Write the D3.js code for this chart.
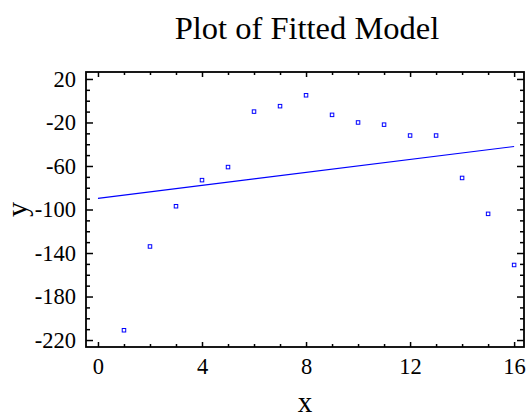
<!DOCTYPE html>
<html>
<head>
<meta charset="utf-8">
<script src="https://cdn.jsdelivr.net/npm/d3@7"></script>
<style>
  html, body { margin: 0; padding: 0; background: #fff; }
  svg { display: block; }
  text { font-family: "Liberation Serif", "Times New Roman", serif; fill: #000; }
</style>
</head>
<body>
<svg id="chart" width="528" height="418"></svg>
<script>
// Observed data
const xValues = [1, 2, 3, 4, 5, 6, 7, 8, 9, 10, 11, 12, 13, 14, 15, 16];
const yValues = [-211, -134, -97, -73, -61, -10, -5, 5, -13, -20, -22, -32, -32, -71, -104, -151];

// Axis limits and tick labels
const xLimits = [-0.46, 16.38];
const yLimits = [-226.4, 26.4];
const xMajorTicks = [0, 4, 8, 12, 16];
const xMinorTicks = [1, 2, 3, 5, 6, 7, 9, 10, 11, 13, 14, 15];
const yMajorTicks = [-220, -180, -140, -100, -60, -20, 20];
const yMinorTicks = [-210, -200, -190, -170, -160, -150, -130, -120, -110, -90, -80, -70, -50, -40, -30, -10, 0, 10];

const title = "Plot of Fitted Model";
const xLabel = "x";
const yLabel = "y";

const svg = d3.select("#chart");
const box = { left: 86, right: 524, top: 72, bottom: 347 };

const x = d3.scaleLinear().domain(xLimits).range([box.left, box.right]);
const y = d3.scaleLinear().domain(yLimits).range([box.bottom, box.top]);

// Least-squares straight-line fit of y on x
const mx = d3.mean(xValues), my = d3.mean(yValues);
const sxy = d3.sum(xValues, (v, i) => (v - mx) * (yValues[i] - my));
const sxx = d3.sum(xValues, v => (v - mx) * (v - mx));
const slope = sxy / sxx;
const intercept = my - slope * mx;
const fitX = [0, 16];

const fmt = d => String(d).replace("\u2212", "-");

// Bottom axis (labelled) and top mirror
function xAxis(gen, ty, major, label) {
  const g = svg.append("g").attr("transform", `translate(0,${ty})`);
  g.call(gen(x).tickValues(major ? xMajorTicks : xMinorTicks)
      .tickSizeInner(major ? -5 : -3).tickSizeOuter(0).tickPadding(11)
      .tickFormat(label ? fmt : ""));
  g.select(".domain").remove();
  g.selectAll(".tick line").attr("stroke", "#000").attr("stroke-width", 1.5);
  g.selectAll(".tick text").attr("font-size", 22.5).attr("font-family", "Liberation Serif, serif");
}
xAxis(d3.axisBottom, box.bottom, true, true);
xAxis(d3.axisBottom, box.bottom, false, false);
xAxis(d3.axisTop, box.top, true, false);
xAxis(d3.axisTop, box.top, false, false);

function yAxis(gen, tx, major, label) {
  const g = svg.append("g").attr("transform", `translate(${tx},0)`);
  g.call(gen(y).tickValues(major ? yMajorTicks : yMinorTicks)
      .tickSizeInner(major ? -7 : -4).tickSizeOuter(0).tickPadding(10)
      .tickFormat(label ? fmt : ""));
  g.select(".domain").remove();
  g.selectAll(".tick line").attr("stroke", "#000").attr("stroke-width", 1.5);
  g.selectAll(".tick text").attr("font-size", 22.5).attr("font-family", "Liberation Serif, serif");
}
yAxis(d3.axisLeft, box.left, true, true);
yAxis(d3.axisLeft, box.left, false, false);
yAxis(d3.axisRight, box.right, true, false);
yAxis(d3.axisRight, box.right, false, false);

// Frame
svg.append("rect")
  .attr("x", box.left).attr("y", box.top)
  .attr("width", box.right - box.left).attr("height", box.bottom - box.top)
  .attr("fill", "none").attr("stroke", "#000").attr("stroke-width", 1.8);

// Fitted line
svg.append("path")
  .datum(fitX)
  .attr("fill", "none").attr("stroke", "#0000ff").attr("stroke-width", 1.1)
  .attr("d", d3.line().x(d => x(d)).y(d => y(intercept + slope * d)));

// Observations
svg.append("g").selectAll("rect")
  .data(xValues.map((v, i) => [v, yValues[i]]))
  .join("rect")
  .attr("x", d => x(d[0]) - 1.75).attr("y", d => y(d[1]) - 1.75)
  .attr("width", 3.5).attr("height", 3.5)
  .attr("fill", "none").attr("stroke", "#0000ff").attr("stroke-width", 1);

// Titles
const cx = (box.left + box.right) / 2;
svg.append("text").attr("x", cx + 2).attr("y", 39)
  .attr("text-anchor", "middle").attr("font-size", 32.5).text(title);
svg.append("text").attr("x", cx).attr("y", 411.5)
  .attr("text-anchor", "middle").attr("font-size", 29).text(xLabel);
svg.append("text")
  .attr("transform", `translate(27,${(box.top + box.bottom) / 2}) rotate(-90)`)
  .attr("text-anchor", "middle").attr("font-size", 30).text(yLabel);
</script>
</body>
</html>
